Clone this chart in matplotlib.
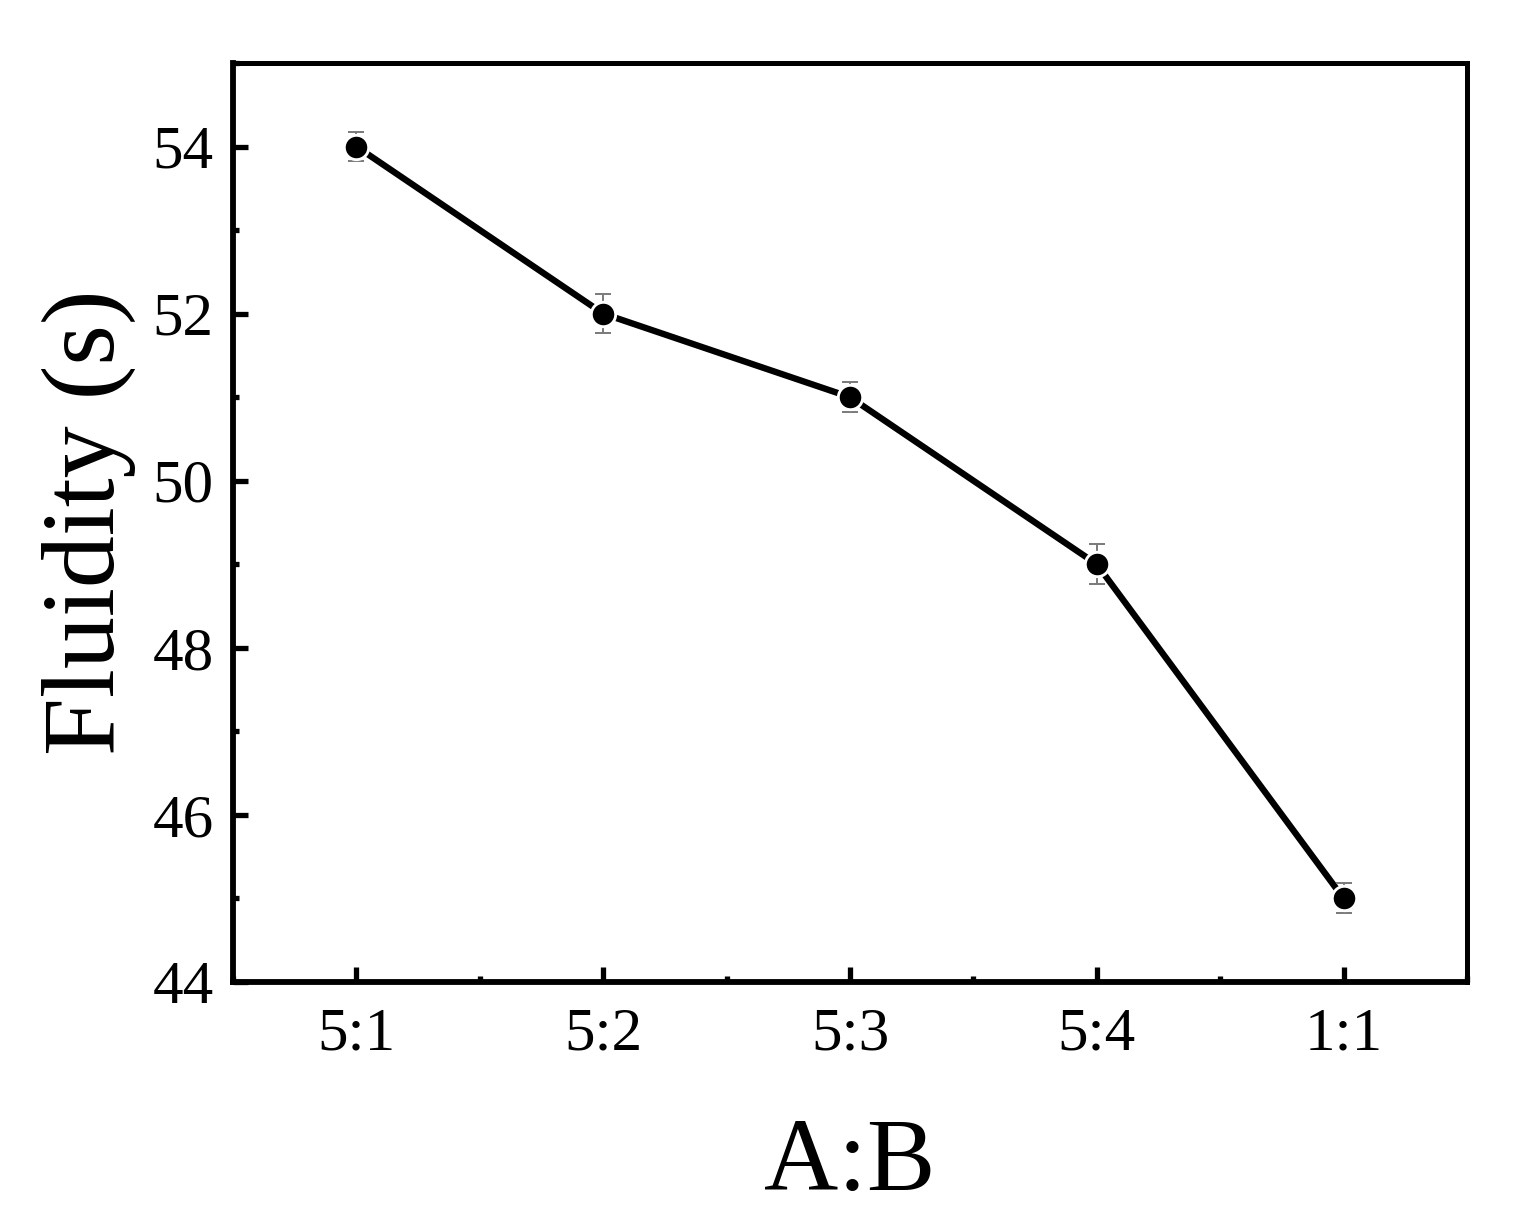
import matplotlib as mpl
mpl.use('Agg')
import matplotlib.pyplot as plt
import matplotlib.ticker as ticker
import numpy as np

ratios = ['5:1', '5:2', '5:3', '5:4', '1:1']
fluidity = [54.0, 52.0, 51.0, 49.0, 45.0]
err = [0.17, 0.23, 0.18, 0.24, 0.18]

plt.rcParams['font.family'] = ['Liberation Serif', 'DejaVu Serif']

fig = plt.figure(figsize=(15.15, 12.18), dpi=100)
ax = fig.add_axes([0.1538, 0.1938, 0.8145, 0.7545])

x = np.arange(len(ratios))
ax.plot(x, fluidity, color='black', lw=4.6, zorder=2, solid_capstyle='butt')
ax.errorbar(x, fluidity, yerr=err, fmt='none', ecolor='#7a7a7a', elinewidth=1.4,
            capsize=6, capthick=1.4, zorder=3)
ax.plot(x, fluidity, 'o', color='black', markersize=17, markeredgecolor='white',
        markeredgewidth=2.6, zorder=4)
ax.plot(x, fluidity, 'o', color='black', markersize=15.5, markeredgewidth=0, zorder=5)

ax.set_xlim(-0.5, 4.5)
ax.set_ylim(44, 55)
ax.set_xticks(x)
ax.set_xticklabels(ratios)
ax.xaxis.set_minor_locator(ticker.MultipleLocator(0.5))
ax.yaxis.set_major_locator(ticker.MultipleLocator(2))
ax.yaxis.set_minor_locator(ticker.MultipleLocator(1))
ax.tick_params(axis='both', which='major', direction='in', length=11, width=3.8,
               labelsize=44)
ax.tick_params(axis='x', which='major', pad=18)
ax.tick_params(axis='y', which='major', pad=14)
ax.tick_params(axis='both', which='minor', direction='in', length=4.5, width=3.8)
ax.tick_params(top=False, right=False, which='both')

for s in ax.spines.values():
    s.set_linewidth(3.6)
ax.spines['left'].set_linewidth(4.2)
ax.spines['bottom'].set_linewidth(4.2)

ax.set_xlabel('A:B', fontsize=74, labelpad=40)
ax.set_ylabel('Fluidity (s)', fontsize=75, labelpad=12)

fig.savefig('out.png', dpi=100)
